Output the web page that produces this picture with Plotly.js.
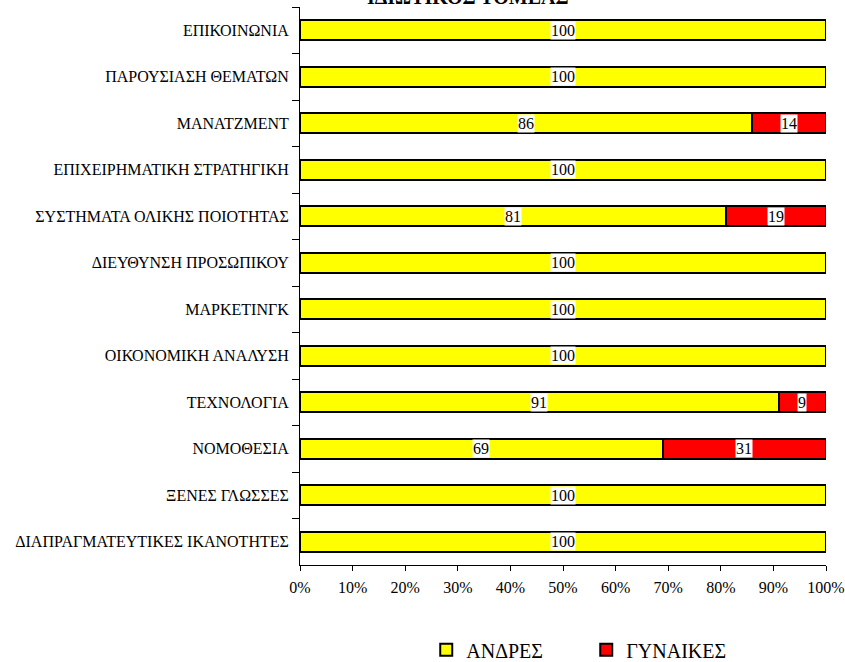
<!DOCTYPE html>
<html>
<head>
<meta charset="utf-8">
<script src="https://cdn.plot.ly/plotly-3.0.1.min.js"></script>
<style>html,body{margin:0;padding:0;background:#fff;}#chart{width:845px;height:662px;}</style>
</head>
<body>
<div id="chart"></div>
<script>
var categories = [
  "ΕΠΙΚΟΙΝΩΝΙΑ",
  "ΠΑΡΟΥΣΙΑΣΗ ΘΕΜΑΤΩΝ",
  "ΜΑΝΑΤΖΜΕΝΤ",
  "ΕΠΙΧΕΙΡΗΜΑΤΙΚΗ ΣΤΡΑΤΗΓΙΚΗ",
  "ΣΥΣΤΗΜΑΤΑ ΟΛΙΚΗΣ ΠΟΙΟΤΗΤΑΣ",
  "ΔΙΕΥΘΥΝΣΗ ΠΡΟΣΩΠΙΚΟΥ",
  "ΜΑΡΚΕΤΙΝΓΚ",
  "ΟΙΚΟΝΟΜΙΚΗ ΑΝΑΛΥΣΗ",
  "ΤΕΧΝΟΛΟΓΙΑ",
  "ΝΟΜΟΘΕΣΙΑ",
  "ΞΕΝΕΣ ΓΛΩΣΣΕΣ",
  "ΔΙΑΠΡΑΓΜΑΤΕΥΤΙΚΕΣ ΙΚΑΝΟΤΗΤΕΣ"
];
var men   = [100, 100, 86, 100, 81, 100, 100, 100, 91, 69, 100, 100];
var women = [0, 0, 14, 0, 19, 0, 0, 0, 9, 31, 0, 0];
var seriesNames = ["ΑΝΔΡΕΣ", "ΓΥΝΑΙΚΕΣ"];
var xTickVals = [0, 10, 20, 30, 40, 50, 60, 70, 80, 90, 100];
var titleText = "ΙΔΙΩΤΙΚΟΣ ΤΟΜΕΑΣ";

var FONT = "Liberation Serif";

var traces = [
  {type: "bar", orientation: "h", name: seriesNames[0], y: categories, x: men,
   marker: {color: "#FFFF00", line: {color: "#000", width: 2}}, width: 0.43, hoverinfo: "x+y"},
  {type: "bar", orientation: "h", name: seriesNames[1], y: categories, x: women,
   marker: {color: "#FF0000", line: {color: "#000", width: 2}}, width: 0.43, hoverinfo: "x+y"}
];

var annotations = [];
categories.forEach(function(c, i) {
  if (men[i] > 0) annotations.push({x: men[i] / 2, y: c, xref: "x", yref: "y", text: String(men[i]),
    showarrow: false, bgcolor: "#fff", borderpad: 0, font: {family: FONT, size: 16, color: "#000"}});
  if (women[i] > 0) annotations.push({x: men[i] + women[i] / 2, y: c, xref: "x", yref: "y", text: String(women[i]),
    showarrow: false, bgcolor: "#fff", borderpad: 0, font: {family: FONT, size: 16, color: "#000"}});
});
// chart title (partly cut off at the top edge, as in the reference)
annotations.push({x: 0.319, y: 1.018, xref: "paper", yref: "paper", xanchor: "center", yanchor: "middle",
  text: "<b>" + titleText + "</b>", showarrow: false, font: {family: FONT, size: 20, color: "#000"}});

var layout = {
  width: 845, height: 662,
  paper_bgcolor: "#fff", plot_bgcolor: "#fff",
  margin: {l: 300, r: 19, t: 7, b: 97, autoexpand: false},
  barmode: "stack",
  font: {family: FONT, size: 16, color: "#000"},
  xaxis: {range: [0, 100], tickvals: xTickVals, ticktext: xTickVals.map(function(v){return v + "%";}),
          showgrid: false, zeroline: false, showline: true, linecolor: "#000", linewidth: 1,
          ticks: "outside", ticklen: 5, tickcolor: "#000", tickwidth: 1, ticklabelstandoff: 3,
          tickangle: 0, automargin: false,
          tickfont: {family: FONT, size: 16, color: "#000"}, fixedrange: true},
  xaxis2: {range: [0, 100], tickvals: xTickVals, showticklabels: false, overlaying: "x", anchor: "y",
           side: "bottom", showgrid: false, zeroline: false, showline: false,
           ticks: "inside", ticklen: 4, tickcolor: "#000", tickwidth: 1, automargin: false, fixedrange: true},
  yaxis: {type: "category", autorange: "reversed", showgrid: false, zeroline: false,
          showline: true, linecolor: "#000", linewidth: 1, automargin: false,
          ticks: "outside", tickson: "boundaries", ticklen: 7, tickcolor: "#000", tickwidth: 1,
          ticklabelstandoff: 7,
          tickfont: {family: FONT, size: 16, color: "#000"}, fixedrange: true},
  showlegend: true,
  legend: {orientation: "h", x: 0.24, xanchor: "left", y: -0.152, yanchor: "middle",
           traceorder: "normal", font: {family: FONT, size: 20, color: "#000"},
           entrywidth: 115, entrywidthmode: "pixels", itemwidth: 30, bgcolor: "rgba(0,0,0,0)"},
  annotations: annotations
};

Plotly.newPlot("chart", traces, layout, {displayModeBar: false, staticPlot: true});
</script>
</body>
</html>
